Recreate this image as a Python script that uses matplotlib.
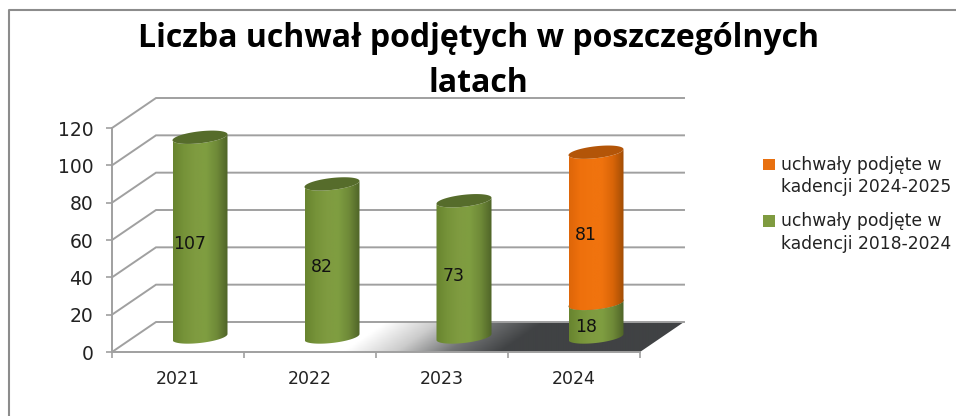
import numpy as np
import matplotlib
matplotlib.use('Agg')
import matplotlib.pyplot as plt
from matplotlib.colors import LinearSegmentedColormap
from matplotlib.lines import Line2D
from matplotlib.patches import Patch, Polygon

years = ['2021', '2022', '2023', '2024']
kadencja_2018 = [107, 82, 73, 18]
kadencja_2024 = [0, 0, 0, 81]
y_ticks = [0, 20, 40, 60, 80, 100, 120]

title = 'Liczba uchwał podjętych w poszczególnych\nlatach'
label_2018 = 'uchwały podjęte w\nkadencji 2018-2024'
label_2024 = 'uchwały podjęte w\nkadencji 2024-2025'

GREEN = '#7F9B40'
ORANGE = '#F0730E'
GRID = '#A0A0A0'

# fake 3d: shift of the back wall in data units
DX = 44 / 132
DY = 30 / (224 / 120)
# cylinder shape in data units
RX = 27.5 / 132
RY = 3.2
SHEAR = 1.6

plt.rcParams['font.family'] = ['DejaVu Sans']

fig = plt.figure(figsize=(9.56, 4.16), dpi=100)
ax = fig.add_axes([112 / 956, 64 / 416, 528 / 956, 224 / 416])
ax.patch.set_visible(False)
XLIM = (0, len(years))
YLIM = (0, y_ticks[-1])


def gradient_fill(points, img, extent, cmap, zorder):
    im = ax.imshow(img, extent=extent, cmap=cmap, vmin=0, vmax=1, aspect='auto',
                   origin='lower', zorder=zorder, interpolation='bilinear')
    clip = Polygon(points, closed=True, transform=ax.transData)
    im.set_clip_path(clip)
    im.set_clip_box(fig.bbox)


def ellipse_pts(cx, cy, t):
    return np.column_stack([cx + RX * np.cos(t), cy + RY * np.sin(t) + SHEAR * np.cos(t)])


def cylinder(cx, bottom, top, colors, cap, zorder):
    cmap = LinearSegmentedColormap.from_list('c', colors)
    t_low = np.linspace(np.pi, 2 * np.pi, 40)
    body = np.vstack([ellipse_pts(cx, bottom, t_low), ellipse_pts(cx, top, t_low)[::-1]])
    img = np.linspace(0, 1, 128).reshape(1, -1)
    gradient_fill(body, img, (cx - RX, cx + RX, bottom - 10, top + 10), cmap, zorder)
    t_all = np.linspace(0, 2 * np.pi, 80)
    ax.add_patch(Polygon(ellipse_pts(cx, top, t_all), closed=True, fc=cap, ec='none',
                         zorder=zorder + 0.1, clip_on=False))


# floor with the shadow fading in from the left
floor = [(0, 0), (XLIM[1], 0), (XLIM[1] + DX, DY), (DX, DY)]
xx, yy = np.meshgrid(np.linspace(0, XLIM[1] + DX, 300), np.linspace(0, DY, 30))
shade = np.clip((xx - 1.75 - yy * 0.02) / 1.2, 0, 1)
floor_cmap = LinearSegmentedColormap.from_list('floor', ['#FFFFFF', '#CCCCCC', '#727475', '#404244'])
gradient_fill(floor, shade, (0, XLIM[1] + DX, 0, DY), floor_cmap, 1)

# walls
for v in y_ticks:
    ax.plot([0, DX, XLIM[1] + DX], [v, v + DY, v + DY], color=GRID, lw=1.4,
            clip_on=False, zorder=2 if v else 1.5, solid_joinstyle='miter')

green_cols = ['#68842F', '#769339', GREEN, '#7F9E41', '#6F8A38', '#4F6428']
orange_cols = ['#DE6609', '#EE700C', ORANGE, '#F0730E', '#D96508', '#A14D05']

for i, year in enumerate(years):
    cx = i + 0.5 + DX / 2
    base = DY / 2
    g = kadencja_2018[i]
    o = kadencja_2024[i]
    cylinder(cx, base, base + g, green_cols, '#566C2B', 3)
    ax.text(cx - 0.076, base + g / 2 - 3.75, str(g), ha='center', va='center',
            fontsize=12.5, color='#111111', zorder=6)
    if o:
        cylinder(cx, base + g, base + g + o, orange_cols, '#B35508', 4)
        ax.text(cx - 0.076, base + g + o / 2 - 3.75, str(o), ha='center', va='center',
                fontsize=12.5, color='#111111', zorder=6)

ax.set_xlim(*XLIM)
ax.set_ylim(*YLIM)

for s in ['top', 'right']:
    ax.spines[s].set_visible(False)
for s in ['left', 'bottom']:
    ax.spines[s].set_color(GRID)
    ax.spines[s].set_linewidth(1.4)
    ax.spines[s].set_zorder(2)

ax.set_yticks(y_ticks)
ax.set_xticks(np.arange(len(years) + 1))
ax.set_xticklabels([])
ax.set_xticks(np.arange(len(years)) + 0.5, labels=years, minor=True)
ax.tick_params(axis='both', which='major', color=GRID, width=1.2, length=4.5)
ax.tick_params(axis='x', which='minor', length=0, pad=13, labelsize=12.5, labelcolor='#222222')
ax.tick_params(axis='y', labelsize=13.5, labelcolor='#222222', pad=9)

handles = [Patch(fc='#E8700F', label=label_2024), Patch(fc=GREEN, label=label_2018)]
leg = fig.legend(handles=handles, loc='upper left', bbox_to_anchor=(763 / 956, 1 - 156 / 416),
                 frameon=False, fontsize=12.3, handlelength=0.68, handleheight=0.68,
                 handletextpad=0.38, labelspacing=0.95, borderpad=0, borderaxespad=0,
                 labelcolor='#222222')
for t in leg.get_texts():
    t.set_linespacing(1.3)
# squares sit next to the first line of each entry
for p in leg.get_patches():
    p.set_y(p.get_y() + 9)

fig.text(478 / 956, 1 - 22 / 416, title, ha='center', va='top', fontsize=23,
         fontweight='bold', family=['Open Sans', 'DejaVu Sans'], color='#000000', linespacing=1.47)

# frame of the chart area
fig.add_artist(Line2D([9 / 956, 9 / 956, 1], [0, 1 - 10 / 416, 1 - 10 / 416], color='#8C8C8C', lw=1.5))

fig.savefig('out.png', dpi=100)
